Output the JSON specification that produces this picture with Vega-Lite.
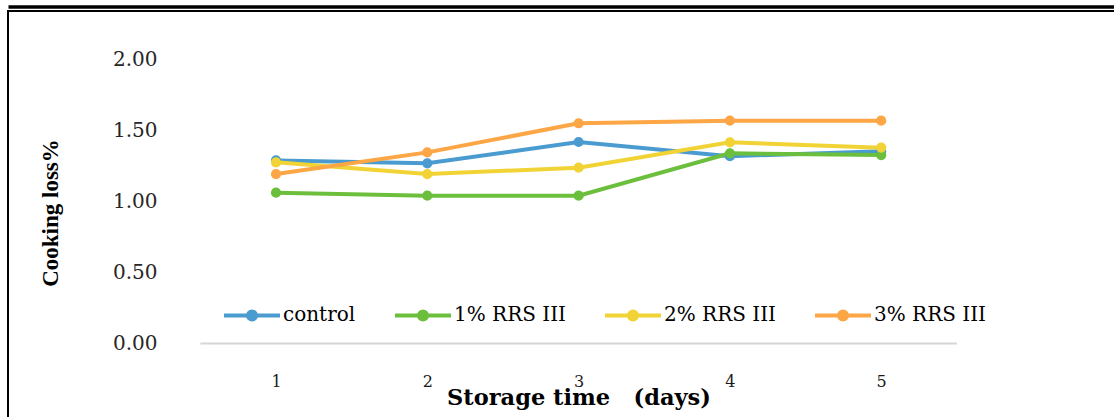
{
  "$schema": "https://vega.github.io/schema/vega-lite/v6.json",
  "width": 1109,
  "height": 409,
  "autosize": {"type": "none"},
  "padding": {"left": 8, "top": 11, "right": -3, "bottom": -3},
  "background": "#ffffff",
  "config": {
    "view": {"stroke": "#000000", "strokeWidth": 2}
  },
  "layer": [
    {
      "data": {"values": [{"day": 0.5, "day_end": 5.5, "loss": 0}]},
      "mark": {"type": "rule", "color": "#d6d6d6", "strokeWidth": 2},
      "encoding": {
        "x": {"field": "day", "type": "quantitative", "scale": {"domain": [-0.7713, 6.5585], "nice": false, "zero": false}},
        "x2": {"field": "day_end"},
        "y": {"field": "loss", "type": "quantitative", "scale": {"domain": [-0.5391, 2.3432], "nice": false, "zero": false}}
      }
    },
    {
      "data": {
        "values": [
          {"day": 1, "treatment": "control", "loss": 1.29},
          {"day": 2, "treatment": "control", "loss": 1.27},
          {"day": 3, "treatment": "control", "loss": 1.42},
          {"day": 4, "treatment": "control", "loss": 1.32},
          {"day": 5, "treatment": "control", "loss": 1.355},
          {"day": 1, "treatment": "1% RRS III", "loss": 1.063},
          {"day": 2, "treatment": "1% RRS III", "loss": 1.042},
          {"day": 3, "treatment": "1% RRS III", "loss": 1.042},
          {"day": 4, "treatment": "1% RRS III", "loss": 1.34},
          {"day": 5, "treatment": "1% RRS III", "loss": 1.328},
          {"day": 1, "treatment": "2% RRS III", "loss": 1.277},
          {"day": 2, "treatment": "2% RRS III", "loss": 1.194},
          {"day": 3, "treatment": "2% RRS III", "loss": 1.239},
          {"day": 4, "treatment": "2% RRS III", "loss": 1.418},
          {"day": 5, "treatment": "2% RRS III", "loss": 1.38},
          {"day": 1, "treatment": "3% RRS III", "loss": 1.194},
          {"day": 2, "treatment": "3% RRS III", "loss": 1.347},
          {"day": 3, "treatment": "3% RRS III", "loss": 1.552},
          {"day": 4, "treatment": "3% RRS III", "loss": 1.57},
          {"day": 5, "treatment": "3% RRS III", "loss": 1.57}
        ]
      },
      "mark": {"type": "line", "strokeWidth": 4, "point": {"filled": true, "size": 104, "opacity": 1}},
      "encoding": {
        "x": {
          "field": "day",
          "type": "quantitative",
          "scale": {"domain": [-0.7713, 6.5585], "nice": false, "zero": false},
          "axis": {
            "orient": "top",
            "offset": 4.5,
            "domain": true,
            "domainColor": "#000000",
            "domainWidth": 3.6,
            "ticks": false,
            "grid": false,
            "values": [1, 2, 3, 4, 5],
            "format": "d",
            "labelFont": "DejaVu Serif",
            "labelFontSize": 16,
            "labelColor": "#1a1a1a",
            "labelPadding": -374.5,
            "labelBaseline": "middle",
            "labelFlush": false,
            "labelOverlap": false,
            "title": "Storage time\u00a0\u00a0\u00a0(days)",
            "titleFont": "DejaVu Serif",
            "titleFontWeight": "bold",
            "titleFontSize": 22.5,
            "titleColor": "#000000",
            "titleX": 570.5,
            "titleY": 397.5,
            "titleAlign": "center",
            "titleBaseline": "alphabetic"
          }
        },
        "y": {
          "field": "loss",
          "type": "quantitative",
          "scale": {"domain": [-0.5391, 2.3432], "nice": false, "zero": false},
          "axis": {
            "orient": "left",
            "values": [0, 0.5, 1, 1.5, 2],
            "format": ".2f",
            "domain": false,
            "ticks": false,
            "grid": false,
            "labelFont": "DejaVu Serif",
            "labelFontSize": 20,
            "labelColor": "#262626",
            "labelPadding": -149,
            "labelAlign": "right",
            "labelBaseline": "middle",
            "labelFlush": false,
            "labelOverlap": false,
            "title": "Cooking loss%",
            "titleFont": "Liberation Serif",
            "titleFontWeight": "bold",
            "titleFontSize": 23,
            "titleColor": "#000000",
            "titleAngle": 270,
            "titleX": 42,
            "titleY": 201.5,
            "titleAlign": "center",
            "titleBaseline": "middle"
          }
        },
        "color": {
          "field": "treatment",
          "type": "nominal",
          "scale": {
            "domain": ["control", "1% RRS III", "2% RRS III", "3% RRS III"],
            "range": ["#4a9bd0", "#6cbf3c", "#f2d335", "#fca646"]
          },
          "legend": {
            "orient": "none",
            "legendX": 214,
            "legendY": 274,
            "direction": "horizontal",
            "columns": 4,
            "title": null,
            "padding": 0,
            "symbolType": "M-1,0L1,0M-0.145,0A0.145,0.145,0,1,0,0.145,0A0.145,0.145,0,1,0,-0.145,0Z",
            "symbolSize": 3136,
            "symbolStrokeWidth": 4,
            "symbolOpacity": 1,
            "labelFont": "DejaVu Serif",
            "labelFontSize": 20,
            "labelColor": "#000000",
            "labelOffset": 1,
            "labelBaseline": "middle",
            "columnPadding": 31,
            "encode": {
              "symbols": {
                "update": {
                  "fill": {"scale": "color", "field": "value"},
                  "stroke": {"scale": "color", "field": "value"}
                }
              }
            }
          }
        }
      }
    }
  ]
}
